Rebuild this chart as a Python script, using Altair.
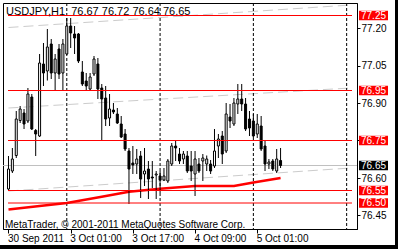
import altair as alt
import pandas as pd

symbol = "USDJPY"
timeframe = "H1"
copyright_text = "MetaTrader, \u00a9 2001-2011 MetaQuotes Software Corp."

bars = list(range(71))
opens = [76.556, 76.628, 76.690, 76.830, 76.860, 76.828, 76.924, 76.790, 76.768, 77.056,
         77.028, 77.136, 77.020, 77.116, 77.020, 77.096, 77.208, 77.176, 77.176, 77.024,
         76.988, 76.956, 77.016, 77.056, 76.960, 76.920, 76.840, 76.872, 76.856, 76.816,
         76.776, 76.708, 76.660, 76.656, 76.688, 76.616, 76.636, 76.604, 76.612, 76.608,
         76.592, 76.588, 76.656, 76.728, 76.696, 76.676, 76.688, 76.648, 76.616, 76.656,
         76.668, 76.656, 76.656, 76.648, 76.728, 76.768, 76.708, 76.844, 76.816, 76.896,
         76.916, 76.896, 76.836, 76.828, 76.776, 76.808, 76.728, 76.656, 76.668, 76.628,
         76.670]
highs = [76.688, 76.720, 76.868, 76.888, 76.876, 76.960, 76.936, 76.796, 77.096, 77.140,
         77.196, 77.156, 77.096, 77.136, 77.156, 77.240, 77.240, 77.208, 77.180, 77.068,
         77.020, 77.020, 77.088, 77.080, 76.976, 76.968, 76.936, 76.900, 76.880, 76.848,
         76.796, 76.720, 76.728, 76.716, 76.708, 76.720, 76.668, 76.668, 76.628, 76.628,
         76.640, 76.676, 76.740, 76.748, 76.720, 76.708, 76.708, 76.708, 76.708, 76.680,
         76.696, 76.690, 76.672, 76.796, 76.776, 76.788, 76.900, 76.896, 76.920, 76.976,
         76.976, 76.920, 76.868, 76.856, 76.856, 76.848, 76.748, 76.676, 76.676, 76.716,
         76.720]
lows = [76.548, 76.620, 76.680, 76.820, 76.796, 76.820, 76.792, 76.688, 76.764, 76.968,
        76.990, 76.996, 76.948, 76.996, 76.948, 77.092, 77.120, 77.096, 77.060, 76.968,
        76.948, 76.948, 77.008, 76.916, 76.748, 76.808, 76.808, 76.856, 76.816, 76.760,
        76.708, 76.496, 76.616, 76.616, 76.520, 76.568, 76.516, 76.560, 76.516, 76.540,
        76.588, 76.580, 76.648, 76.668, 76.656, 76.656, 76.620, 76.588, 76.528, 76.620,
        76.588, 76.628, 76.616, 76.640, 76.680, 76.656, 76.700, 76.800, 76.808, 76.856,
        76.868, 76.788, 76.768, 76.760, 76.760, 76.708, 76.628, 76.636, 76.628, 76.620,
        76.640]
closes = [76.636, 76.676, 76.836, 76.876, 76.816, 76.936, 76.796, 76.776, 77.060, 77.020,
          77.124, 77.020, 77.076, 77.016, 77.136, 77.208, 77.180, 77.160, 77.068, 76.976,
          76.968, 77.004, 77.076, 76.956, 76.916, 76.836, 76.876, 76.864, 76.820, 76.764,
          76.716, 76.636, 76.652, 76.676, 76.596, 76.628, 76.596, 76.600, 76.616, 76.592,
          76.608, 76.668, 76.728, 76.720, 76.668, 76.696, 76.628, 76.628, 76.676, 76.628,
          76.680, 76.676, 76.628, 76.708, 76.756, 76.696, 76.856, 76.828, 76.900, 76.916,
          76.896, 76.796, 76.800, 76.768, 76.816, 76.716, 76.656, 76.664, 76.636, 76.676,
          76.650]

ma_bars = [0, 8, 15, 24, 31, 39, 48, 58, 63, 70]
ma_vals = [76.474, 76.488, 76.500, 76.525, 76.545, 76.557, 76.568, 76.568, 76.582, 76.600]

chan_bars = [0, 88]
chan_upper = [77.202, 77.292]
chan_mid = [76.880, 76.960]
chan_low = [76.548, 76.640]

level_prices = [77.25, 76.95, 76.75, 76.55, 76.50]
bid_price = 76.65
price_ticks = [76.45, 76.60, 76.75, 76.90, 77.05, 77.20]
day_sep_bars = [15, 39, 63, 87]
time_tick_bars = [0, 16, 32, 48, 64]
time_tick_labels = ["30 Sep 2011", "3 Oct 01:00", "3 Oct 17:00", "4 Oct 09:00", "5 Oct 01:00"]

FONT = "Liberation Sans"
RED = "#ff0000"

candles = pd.DataFrame({"bar": bars, "open": opens, "high": highs, "low": lows, "close": closes})
candles["lo"] = candles[["open", "close"]].min(axis=1)
candles["hi"] = candles[["open", "close"]].max(axis=1)

XDOM = [-0.125, 88.375]
xscale = alt.Scale(domain=XDOM, nice=False, zero=False)
yscale = alt.Scale(domain=[76.396, 77.300], nice=False, zero=False)

label_expr = "".join(f"datum.value == {b} ? '{l}' : " for b, l in zip(time_tick_bars, time_tick_labels)) + "''"
xaxis = alt.Axis(values=time_tick_bars, labelExpr=label_expr, labelAlign="left", labelOffset=-1,
                 labelPadding=0, tickSize=4, tickColor="black", domainColor="black",
                 labelFont=FONT, labelFontSize=10, labelColor="black", grid=False, title=None,
                 labelOverlap=False, labelBound=False, labelFlush=False)
yaxis = alt.Axis(orient="right", values=price_ticks, format=".2f", tickSize=3, labelPadding=1,
                 tickColor="black", domainColor="black", labelFont=FONT, labelFontSize=10,
                 labelColor="black", grid=False, title=None, labelOverlap=False, labelBound=False,
                 labelFlush=False)


def X(field):
    return alt.X(field, type="quantitative", scale=xscale, axis=xaxis)


def Y(field):
    return alt.Y(field, type="quantitative", scale=yscale, axis=yaxis)


base = alt.Chart(candles)

chan_df = pd.DataFrame({
    "bar": chan_bars * 3,
    "price": chan_upper + chan_mid + chan_low,
    "line": ["upper"] * 2 + ["mid"] * 2 + ["low"] * 2,
})
channels = alt.Chart(chan_df).mark_line(stroke="#cccccc", strokeWidth=1, strokeDash=[10, 5], clip=True).encode(
    x=X("bar"), y=Y("price"), detail="line:N")

bid = alt.Chart(pd.DataFrame({"price": [bid_price]})).mark_rule(stroke="#c0c0c0", strokeWidth=1).encode(y=Y("price"))

lvl_rows = []
for p in level_prices:
    lvl_rows.append({"bar": XDOM[0], "price": p, "lvl": str(p)})
    lvl_rows.append({"bar": XDOM[1], "price": p, "lvl": str(p)})
levels = alt.Chart(pd.DataFrame(lvl_rows)).mark_line(
    stroke=RED, strokeWidth=1, strokeOpacity=1).encode(x=X("bar"), y=Y("price"), detail="lvl:N")

seps = alt.Chart(pd.DataFrame({"bar": day_sep_bars})).mark_rule(
    stroke="black", strokeWidth=1, strokeDash=[3, 2]).encode(x=X("bar"))

ma_df = pd.DataFrame({"bar": ma_bars, "price": ma_vals})
ma = alt.Chart(ma_df).mark_line(stroke=RED, strokeWidth=2.5, clip=True).encode(x=X("bar"), y=Y("price"))

wicks = base.mark_rule(stroke="black", strokeWidth=1).encode(x=X("bar"), y=Y("low"), y2="high")
bodies = base.mark_bar(size=2, stroke="black", strokeWidth=1).encode(
    x=X("bar"), y=Y("lo"), y2="hi",
    fill=alt.condition("datum.close >= datum.open", alt.value("white"), alt.value("black")))

last = candles.iloc[-1]
title_text = f"{symbol},{timeframe}\u00a0\u00a0" + " ".join(
    f"{v:.2f}" for v in [last["open"], last["high"], last["low"], last["close"]])
title = alt.Chart(pd.DataFrame({"t": [title_text]})).mark_text(
    align="left", baseline="alphabetic", font=FONT, fontSize=11, color="black").encode(
    text="t:N", x=alt.value(3), y=alt.value(12))

copy = alt.Chart(pd.DataFrame({"t": [copyright_text]})).mark_text(
    align="left", baseline="alphabetic", font=FONT, fontSize=10, color="black").encode(
    text="t:N", x=alt.value(2), y=alt.value(224.5))

lab_df = pd.DataFrame({
    "price": level_prices + [bid_price],
    "kind": ["level"] * len(level_prices) + ["bid"],
})
lab_df["txt"] = [f"{p:.2f}" for p in lab_df["price"]]
label_boxes = alt.Chart(lab_df).transform_calculate(
    lo="datum.price - 0.019", hi="datum.price + 0.019").mark_rect().encode(
    x=alt.value(356), x2=alt.value(385), y=Y("lo:Q"), y2="hi:Q",
    fill=alt.condition("datum.kind == 'level'", alt.value(RED), alt.value("black")))
label_text = alt.Chart(lab_df).mark_text(align="left", baseline="middle", font=FONT, fontSize=10, color="white").encode(
    x=alt.value(358), y=Y("price"), text="txt:N")

bg = pd.DataFrame({"a": [0]})
border_r = alt.Chart(bg).mark_rect(fill="black").encode(x=alt.value(392), x2=alt.value(400), y=alt.value(-10), y2=alt.value(260))
border_b = alt.Chart(bg).mark_rect(fill="black").encode(x=alt.value(-10), x2=alt.value(400), y=alt.value(242), y2=alt.value(260))

chart = alt.layer(
    channels, bid, seps, ma, wicks, bodies, levels, title, copy, label_boxes, label_text, border_r, border_b
).properties(
    width=354, height=226,
    padding={"left": 3, "top": 3, "right": 41, "bottom": 20},
    autosize=alt.AutoSizeParams(type="none"),
    background="white",
).configure_view(stroke="black", strokeWidth=1)

chart.save("out.html", embed_options={"renderer": "svg", "actions": False})
